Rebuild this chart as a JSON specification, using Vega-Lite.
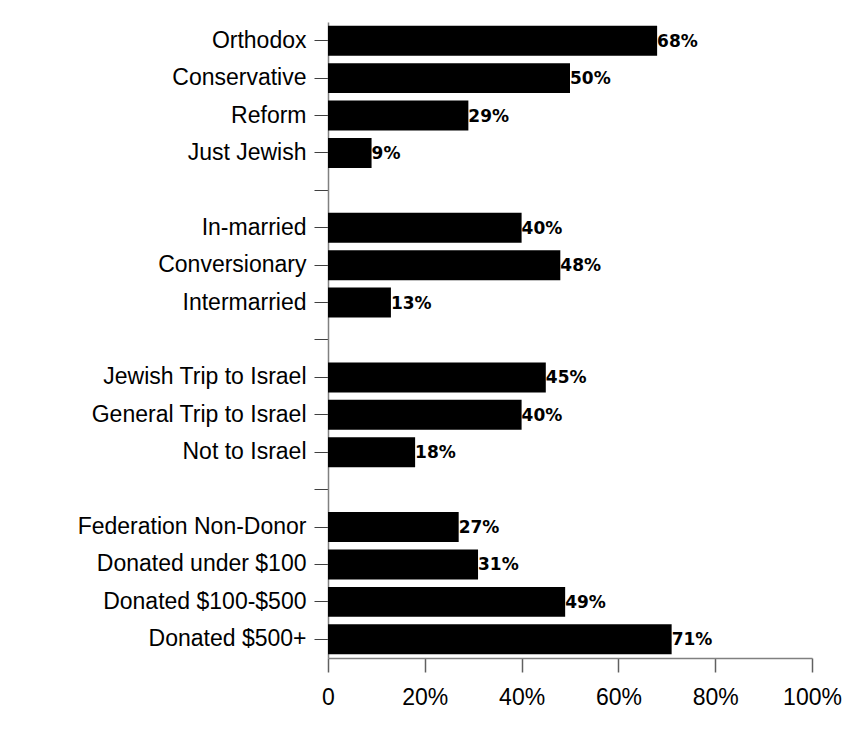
{
  "$schema": "https://vega.github.io/schema/vega-lite/v6.json",
  "autosize": "none",
  "width": 484,
  "height": 636,
  "padding": {"left": 328, "top": 22, "right": 34, "bottom": 72},
  "background": "white",
  "config": {"view": {"stroke": null}},
  "data": {
    "values": [
      {"group": "Orthodox", "pct": 0.68},
      {"group": "Conservative", "pct": 0.50},
      {"group": "Reform", "pct": 0.29},
      {"group": "Just Jewish", "pct": 0.09},
      {"group": "In-married", "pct": 0.40},
      {"group": "Conversionary", "pct": 0.48},
      {"group": "Intermarried", "pct": 0.13},
      {"group": "Jewish Trip to Israel", "pct": 0.45},
      {"group": "General Trip to Israel", "pct": 0.40},
      {"group": "Not to Israel", "pct": 0.18},
      {"group": "Federation Non-Donor", "pct": 0.27},
      {"group": "Donated under $100", "pct": 0.31},
      {"group": "Donated $100-$500", "pct": 0.49},
      {"group": "Donated $500+", "pct": 0.71}
    ]
  },
  "encoding": {
    "y": {
      "field": "group",
      "type": "nominal",
      "sort": null,
      "scale": {
        "domain": ["Orthodox", "Conservative", "Reform", "Just Jewish", " ",
                   "In-married", "Conversionary", "Intermarried", "  ",
                   "Jewish Trip to Israel", "General Trip to Israel", "Not to Israel", "   ",
                   "Federation Non-Donor", "Donated under $100", "Donated $100-$500", "Donated $500+"],
        "paddingInner": 0.2,
        "paddingOuter": 0.1
      },
      "axis": {
        "title": null,
        "domainColor": "#808080",
        "domainWidth": 1.5,
        "tickColor": "#404040",
        "tickSize": 14,
        "labelFont": "Liberation Sans",
        "labelFontSize": 23,
        "labelColor": "black",
        "labelPadding": 8,
        "labelLimit": 400
      }
    },
    "x": {
      "field": "pct",
      "type": "quantitative",
      "scale": {"domain": [0, 1], "nice": false},
      "axis": {
        "title": null,
        "values": [0, 0.2, 0.4, 0.6, 0.8, 1],
        "labelExpr": "datum.value == 0 ? '0' : format(datum.value, '.0%')",
        "labelFlush": false,
        "labelOverlap": false,
        "grid": false,
        "domainColor": "#808080",
        "domainWidth": 1.5,
        "tickColor": "#606060",
        "tickWidth": 1.5,
        "tickSize": 14,
        "labelFont": "Liberation Sans",
        "labelFontSize": 23,
        "labelColor": "black",
        "labelPadding": 14
      }
    }
  },
  "layer": [
    {"mark": {"type": "bar", "color": "black"}},
    {
      "mark": {"type": "text", "align": "left", "baseline": "middle", "dx": 0, "dy": 1, "font": "DejaVu Sans", "fontWeight": "bold", "fontSize": 17, "color": "black"},
      "encoding": {"text": {"field": "pct", "type": "quantitative", "format": ".0%"}}
    }
  ]
}
